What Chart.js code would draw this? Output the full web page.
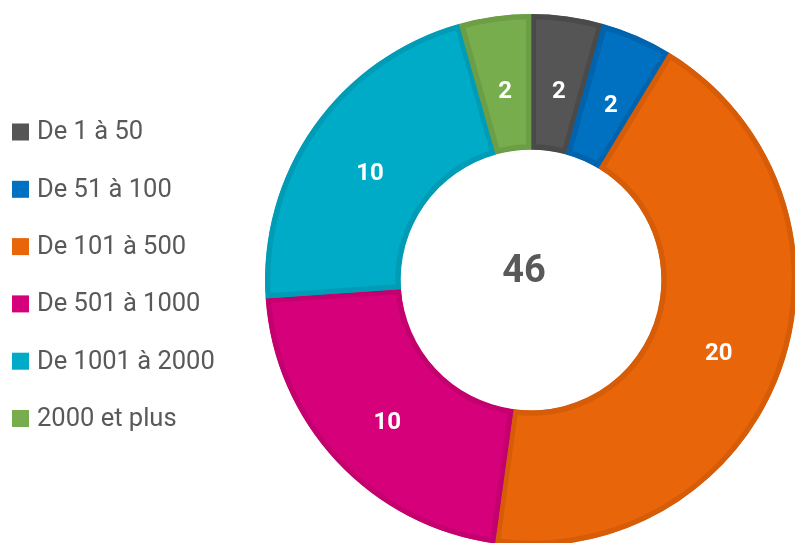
<!DOCTYPE html>
<html>
<head>
<meta charset="utf-8">
<script src="https://cdn.jsdelivr.net/npm/chart.js@4.4.1/dist/chart.umd.min.js"></script>
<style>
  html, body { margin: 0; padding: 0; background: #fff; overflow: hidden; width: 795px; height: 543px; }
  #wrap { position: relative; width: 795px; height: 543px; overflow: hidden; }
  #chartTranches { position: absolute; left: 0; top: 0; }
</style>
</head>
<body>
<div id="wrap"><canvas id="chartTranches" width="810" height="560"></canvas></div>
<script>
/* ---- données ---- */
var LABELS  = ['De 1 à 50', 'De 51 à 100', 'De 101 à 500', 'De 501 à 1000', 'De 1001 à 2000', '2000 et plus'];
var VALEURS = [2, 2, 20, 10, 10, 2];
var COULEURS = ['#555555', '#0070c0', '#e9650a', '#d6007b', '#00abc7', '#78ad4d'];
var BORDURES = ['#4a4a4a', '#0063ad', '#d65c08', '#c4006f', '#009cb6', '#6c9e45'];
var TOTAL = VALEURS.reduce(function(a, b) { return a + b; }, 0);

var FONT = 'Roboto, "Noto Sans", sans-serif';
var GRIS = '#595959';

/* légende à gauche, dessinée à partir des labels du graphique */
var legendeGauche = {
    id: 'legendeGauche',
    afterDraw: function(chart) {
        var ctx = chart.ctx;
        var ds = chart.data.datasets[0];
        ctx.save();
        ctx.font = '25.5px ' + FONT;
        ctx.textBaseline = 'middle';
        ctx.textAlign = 'left';
        chart.data.labels.forEach(function(lbl, i) {
            var y = 132 + i * 57.3;
            ctx.fillStyle = ds.backgroundColor[i];
            ctx.fillRect(12, y - 8.5, 17, 17);
            ctx.fillStyle = GRIS;
            ctx.fillText(lbl, 37, y + 1);
        });
        ctx.restore();
    }
};

/* valeurs sur les secteurs + total au centre */
var etiquettes = {
    id: 'etiquettes',
    afterDatasetsDraw: function(chart) {
        var ctx = chart.ctx;
        var meta = chart.getDatasetMeta(0);
        ctx.save();
        ctx.textAlign = 'center';
        ctx.textBaseline = 'middle';
        ctx.fillStyle = '#ffffff';
        ctx.font = 'bold 24px ' + FONT;
        meta.data.forEach(function(arc, i) {
            var p = arc.tooltipPosition();
            ctx.fillText(String(chart.data.datasets[0].data[i]), p.x + 1, p.y + 8);
        });
        var c = meta.data[0];
        ctx.fillStyle = GRIS;
        ctx.font = 'bold 38px ' + FONT;
        ctx.fillText(String(TOTAL), c.x - 7, c.y - 8);
        ctx.restore();
    }
};

new Chart(document.getElementById('chartTranches'), {
    type: 'doughnut',
    data: {
        labels: LABELS,
        datasets: [{
            data: VALEURS,
            backgroundColor: COULEURS,
            borderColor: BORDURES,
            borderWidth: 5,
            borderAlign: 'inner'
        }]
    },
    options: {
        responsive: false,
        animation: false,
        cutout: '49%',
        layout: { padding: { left: 265, right: 13, top: 14, bottom: 14 } },
        plugins: {
            legend: { display: false },
            tooltip: { enabled: false }
        }
    },
    plugins: [legendeGauche, etiquettes]
});
</script>
</body>
</html>
